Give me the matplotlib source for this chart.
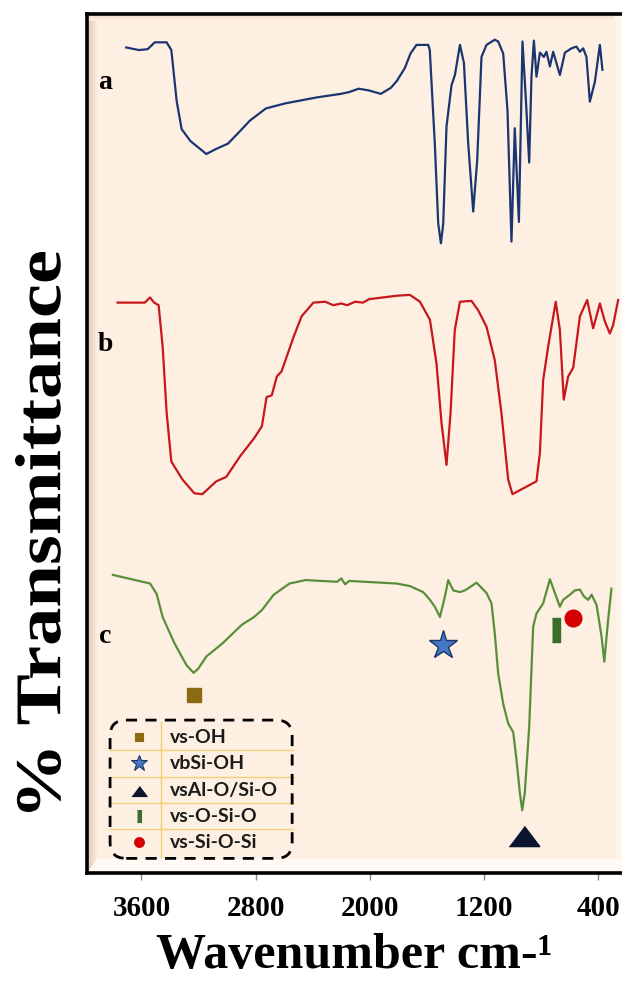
import numpy as np
import matplotlib
matplotlib.use('Agg')
import matplotlib.pyplot as plt
from matplotlib.patches import FancyBboxPatch, PathPatch
from matplotlib.colors import to_rgb
from matplotlib.textpath import TextPath
from matplotlib.font_manager import FontProperties
from matplotlib.transforms import Affine2D

# FTIR spectra, stacked with vertical offsets (% transmittance, arbitrary offset units)
wn_a = [3707, 3618, 3557, 3507, 3424, 3391, 3354, 3319, 3257, 3146, 3076, 2995, 2925, 2840,
        2729, 2591, 2368, 2204, 2148, 2078, 2008, 1924, 1854, 1812, 1756, 1716, 1674, 1592,
        1581, 1546, 1522, 1503, 1487, 1464, 1429, 1405, 1370, 1342, 1312, 1277, 1249, 1219,
        1184, 1126, 1102, 1067, 1037, 1009, 986, 957, 939, 932, 908, 885, 869, 852, 834, 810,
        782, 764, 740, 717, 670, 635, 589, 554, 530, 507, 484, 460, 425, 390, 372]
t_a = [96.1, 95.8, 95.9, 96.7, 96.7, 95.8, 89.9, 86.6, 85.2, 83.7, 84.3, 84.9, 86.1, 87.6,
       89.0, 89.6, 90.3, 90.7, 90.9, 91.3, 91.1, 90.7, 91.4, 92.2, 93.7, 95.4, 96.4, 96.4,
       95.8, 84.9, 75.6, 73.3, 75.6, 86.9, 91.7, 92.9, 96.4, 94.3, 84.9, 77.0, 83.0, 95.0,
       96.4, 97.0, 96.8, 95.4, 88.8, 73.5, 86.7, 75.8, 90.8, 96.8, 90.0, 82.7, 92.7, 96.9,
       92.7, 95.5, 95.0, 95.6, 93.9, 95.6, 92.9, 95.5, 96.0, 96.2, 95.6, 96.0, 95.0, 89.8,
       92.1, 96.4, 93.5]

wn_b = [3768, 3618, 3577, 3540, 3512, 3480, 3452, 3424, 3391, 3313, 3230, 3174, 3076, 3007,
        2910, 2812, 2757, 2724, 2688, 2652, 2619, 2535, 2479, 2396, 2313, 2257, 2201, 2160,
        2104, 2049, 2007, 1813, 1720, 1650, 1580, 1534, 1499, 1464, 1436, 1406, 1370, 1289,
        1242, 1184, 1126, 1079, 1032, 1002, 834, 810, 787, 752, 699, 670, 643, 612, 577, 554,
        530, 479, 437, 390, 355, 320, 297, 262]
t_b = [66.4, 66.4, 66.4, 67.0, 66.4, 66.1, 61.3, 53.6, 47.9, 45.8, 44.2, 44.1, 45.6, 46.1,
       48.5, 50.6, 52.0, 55.4, 55.6, 57.8, 58.4, 62.4, 64.8, 66.4, 66.5, 66.1, 66.3, 66.1,
       66.5, 66.4, 66.8, 67.2, 67.3, 66.5, 64.4, 59.3, 52.4, 47.5, 53.5, 63.2, 66.5, 66.6,
       65.5, 63.6, 59.7, 53.5, 45.8, 44.1, 45.6, 48.9, 57.4, 61.3, 66.5, 63.2, 55.1, 57.8,
       58.8, 61.7, 64.8, 66.7, 63.4, 66.3, 64.2, 62.8, 63.8, 66.7]

wn_c = [3800, 3618, 3540, 3494, 3452, 3368, 3285, 3235, 3202, 3146, 3035, 2897, 2812, 2757,
        2674, 2563, 2451, 2229, 2201, 2174, 2146, 1813, 1720, 1627, 1580, 1546, 1510, 1475,
        1452, 1417, 1370, 1335, 1289, 1254, 1184, 1149, 1126, 1102, 1067, 1032, 997, 974, 950,
        934, 916, 885, 857, 834, 787, 740, 705, 670, 647, 600, 565, 530, 502, 472, 448, 413,
        378, 359, 332, 309]
t_c = [34.7, 34.0, 33.7, 32.5, 29.8, 26.7, 24.2, 23.3, 23.8, 25.2, 26.7, 28.9, 29.8, 30.6,
       32.4, 33.7, 34.1, 33.9, 34.3, 33.6, 34.0, 33.7, 33.4, 32.7, 31.8, 31.0, 29.8, 32.2,
       34.1, 32.9, 32.7, 32.9, 33.4, 33.8, 32.6, 31.4, 27.9, 23.2, 19.7, 17.4, 16.4, 13.2, 9.3,
       7.3, 9.3, 17.0, 28.7, 30.2, 31.4, 34.2, 32.6, 31.0, 31.8, 32.4, 32.9, 33.0, 32.2, 31.8,
       32.4, 31.2, 27.5, 24.6, 29.5, 33.1]

# band assignments marked on spectrum c
band_names = ['vs-OH', 'vbSi-OH', 'vsAl-O/Si-O', 'vs-O-Si-O', 'vs-Si-O-Si']
band_wn = [3230, 1492, 922, 699, 577]
band_t = [20.7, 26.5, 4.3, 28.3, 29.7]

panel_labels = ['a', 'b', 'c']
panel_t = [92.0, 61.5, 27.5]
xticks = [3600, 2800, 2000, 1200, 400]

serif = 'Liberation Serif'
bg = '#fdf0e2'

tri = [(-1, -0.66), (1, -0.66), (0, 0.66)]
bar = [(-0.17, -0.5), (0.17, -0.5), (0.17, 0.5), (-0.17, 0.5)]
styles = [
    dict(marker='s', color='#8b6a12', mec='#8b6a12', big=10.5, small=6),
    dict(marker='*', color='#4676c6', mec='#1d3566', big=21, small=12),
    dict(marker=tri, color='#0b1530', mec='#0b1530', big=22, small=11),
    dict(marker=bar, color='#3b6e2a', mec='#3b6e2a', big=17, small=9),
    dict(marker='o', color='#d40000', mec='#d40000', big=12, small=7),
]

W, H = 622, 984
fig = plt.figure(figsize=(W / 100, H / 100), dpi=100)
ax = fig.add_axes([0.1391, 0.1128, 0.8609, 0.8730])
ax.set_facecolor(bg)
ax.set_xlim(3985, 235)
ax.set_ylim(0, 100)


def bevel(x0, x1, y0, y1, c_edge, horizontal, reverse=False):
    n = 64
    g = np.linspace(0, 1, n)
    if reverse:
        g = g[::-1]
    e = np.array(to_rgb(c_edge))
    b = np.array(to_rgb(bg))
    cols = e[None, :] * (1 - g[:, None]) + b[None, :] * g[:, None]
    img = cols[None, :, :] if horizontal else cols[:, None, :]
    ax.imshow(img, extent=(x0, x1, y0, y1), transform=ax.transAxes,
              aspect='auto', origin='upper' if not horizontal else 'lower', zorder=0.5)


# frame shading
bevel(0.0, 0.02, 0.0, 1.0, '#e6c5ad', True)
bevel(0.0, 1.0, 0.992, 1.0, '#efd9c6', False)
bevel(0.985, 1.0, 0.0, 1.0, '#fffaf4', True, reverse=True)
ax.fill([0, 1, 1, 0.02], [0, 0, 0.016, 0.016], transform=ax.transAxes,
        color='#fffaf5', zorder=0.6, lw=0)

ax.plot(wn_a, t_a, color='#1b3571', lw=1.6, zorder=3)
ax.plot(wn_b, t_b, color='#c8161d', lw=1.6, zorder=3)
ax.plot(wn_c, t_c, color='#5a8f3a', lw=1.6, zorder=3)

for lab, t in zip(panel_labels, panel_t):
    ax.text(3855, t, lab, fontsize=20, fontweight='bold', family=serif,
            ha='center', va='center', zorder=4)

for w, t, st in zip(band_wn, band_t, styles):
    ax.plot([w], [t], ls='none', marker=st['marker'], ms=st['big'],
            color=st['color'], mec=st['mec'], mew=1, zorder=5)

# legend table
box = FancyBboxPatch((0.044, 0.017), 0.34, 0.161, transform=ax.transAxes,
                     boxstyle='round,pad=0,rounding_size=0.03', fill=False,
                     ec='black', lw=2, ls=(0, (4, 3)), zorder=6, mutation_aspect=0.62)
ax.add_patch(box)
row_y = [0.158, 0.128, 0.096, 0.066, 0.036]
sep_y = [0.143, 0.112, 0.081, 0.051]
for y in sep_y:
    ax.plot([0.044, 0.386], [y, y], transform=ax.transAxes, color='#f5cf78', lw=1, zorder=5)
ax.plot([0.139, 0.139], [0.019, 0.176], transform=ax.transAxes, color='#f5cf78', lw=1, zorder=5)
for y, name, st in zip(row_y, band_names, styles):
    ax.plot([0.098], [y], transform=ax.transAxes, ls='none', marker=st['marker'],
            ms=st['small'], color=st['color'], mec=st['mec'], mew=0.8, zorder=7)
    ax.text(0.156, y, name, transform=ax.transAxes, fontsize=14, fontweight='bold',
            family='Lato', color='#1a1a1a', va='center', ha='left', zorder=7)

for side in ['left', 'top', 'bottom']:
    ax.spines[side].set_linewidth(2.6)
    ax.spines[side].set_color('black')
ax.spines['right'].set_visible(False)
ax.set_yticks([])
ax.set_xticks(xticks)
ax.set_xticklabels([str(v) for v in xticks], fontsize=21, fontweight='bold', family=serif)
ax.tick_params(axis='x', length=5, width=1, color='#888888', pad=11)

ax.set_xlabel('Wavenumber cm-¹', fontsize=36, fontweight='bold', family=serif, labelpad=8)

# y label: stretched along its length, as a text path
tp = TextPath((0, 0), '% Transmittance', size=1,
              prop=FontProperties(family=serif, weight='bold'))
ext = tp.get_extents()
sx = 560 / ext.width
sy = 46 / ext.height
tr = (Affine2D()
      .translate(-(ext.x0 + ext.width / 2), -(ext.y0 + ext.height / 2))
      .scale(sx, sy)
      .rotate_deg(90)
      .translate(38, H - 532)
      .scale(1 / W, 1 / H))
fig.add_artist(PathPatch(tr.transform_path(tp), transform=fig.transFigure,
                         color='black', lw=0))

fig.savefig('out.png', dpi=100, facecolor='white')
